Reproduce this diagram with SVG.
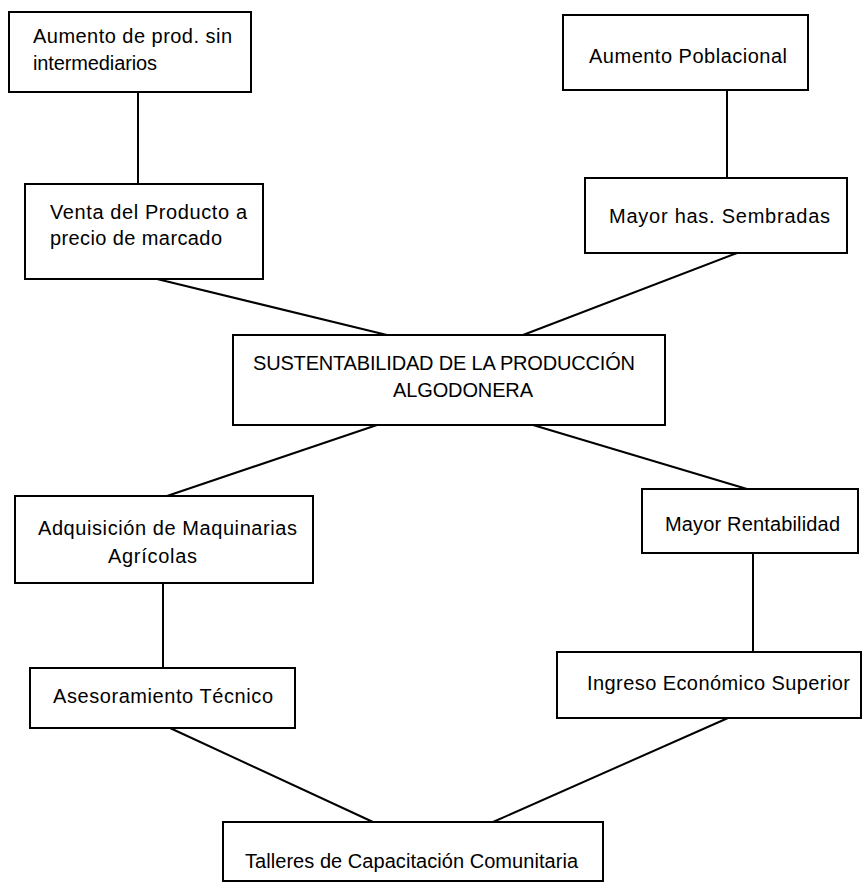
<svg xmlns="http://www.w3.org/2000/svg" width="867" height="894" viewBox="0 0 867 894">
<style>
  .box { fill: #ffffff; stroke: #000000; stroke-width: 2; }
  .lbl { font-family: "Liberation Sans", Arial, sans-serif; font-size: 20px; fill: #000000; }
  .conn line { stroke: #000000; stroke-width: 2; }
</style>
<rect x="0" y="0" width="867" height="894" fill="#ffffff"/>
<g id="connectors" class="conn">
  <line x1="138" y1="92" x2="138" y2="184"/>
  <line x1="727" y1="90" x2="727" y2="178"/>
  <line x1="157" y1="279" x2="387" y2="335"/>
  <line x1="737" y1="253" x2="523" y2="335"/>
  <line x1="377" y1="425" x2="167" y2="496"/>
  <line x1="533" y1="425" x2="747" y2="489"/>
  <line x1="163" y1="583" x2="163" y2="668"/>
  <line x1="753" y1="553" x2="753" y2="652"/>
  <line x1="170" y1="728" x2="373" y2="822"/>
  <line x1="728" y1="718" x2="493" y2="822"/>
</g>
<g id="n-aumento-prod">
  <rect class="box" x="9" y="12" width="242" height="80"/>
  <text class="lbl" x="33" y="43" textLength="199">Aumento de prod. sin</text>
  <text class="lbl" x="33" y="70" textLength="124">intermediarios</text>
</g>
<g id="n-aumento-pob">
  <rect class="box" x="563" y="15" width="245" height="75"/>
  <text class="lbl" x="589" y="63" textLength="198">Aumento Poblacional</text>
</g>
<g id="n-venta">
  <rect class="box" x="25" y="184" width="238" height="95"/>
  <text class="lbl" x="50" y="219" textLength="197">Venta del Producto a</text>
  <text class="lbl" x="50" y="245" textLength="172">precio de marcado</text>
</g>
<g id="n-mayor-has">
  <rect class="box" x="585" y="178" width="262" height="75"/>
  <text class="lbl" x="609" y="223" textLength="221">Mayor has. Sembradas</text>
</g>
<g id="n-sustentabilidad">
  <rect class="box" x="233" y="335" width="432" height="90"/>
  <text class="lbl" x="253" y="370" textLength="382">SUSTENTABILIDAD DE LA PRODUCCIÓN</text>
  <text class="lbl" x="393" y="397" textLength="140">ALGODONERA</text>
</g>
<g id="n-adquisicion">
  <rect class="box" x="15" y="496" width="298" height="87"/>
  <text class="lbl" x="38" y="535" textLength="259">Adquisición de Maquinarias</text>
  <text class="lbl" x="108" y="563" textLength="89">Agrícolas</text>
</g>
<g id="n-rentabilidad">
  <rect class="box" x="642" y="489" width="216" height="64"/>
  <text class="lbl" x="665" y="531" textLength="175">Mayor Rentabilidad</text>
</g>
<g id="n-asesoramiento">
  <rect class="box" x="30" y="668" width="265" height="60"/>
  <text class="lbl" x="53" y="703" textLength="220">Asesoramiento Técnico</text>
</g>
<g id="n-ingreso">
  <rect class="box" x="557" y="652" width="304" height="66"/>
  <text class="lbl" x="587" y="690" textLength="263">Ingreso Económico Superior</text>
</g>
<g id="n-talleres">
  <rect class="box" x="223" y="822" width="380" height="59"/>
  <text class="lbl" x="245" y="868" textLength="333">Talleres de Capacitación Comunitaria</text>
</g>
</svg>
